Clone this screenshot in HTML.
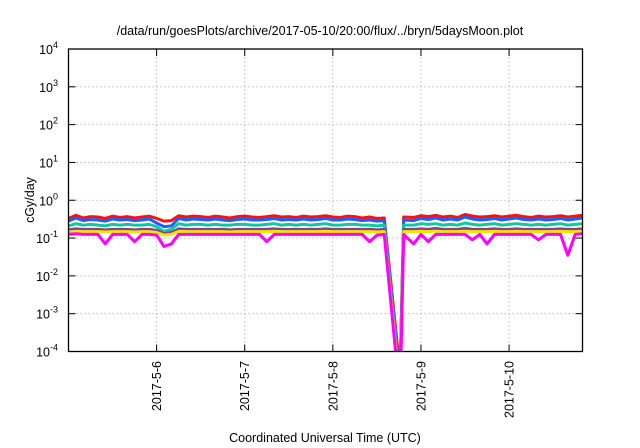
<!DOCTYPE html>
<html><head><meta charset="utf-8"><style>
html,body{margin:0;padding:0;background:#fff;}
svg{display:block;font-family:"Liberation Sans",sans-serif;}
</style></head><body>
<svg id="chart" width="640" height="448" viewBox="0 0 640 448" xmlns="http://www.w3.org/2000/svg">
<text x="320" y="35" text-anchor="middle" font-size="12.5">/data/run/goesPlots/archive/2017-05-10/20:00/flux/../bryn/5daysMoon.plot</text>
<text transform="translate(34,200) rotate(-90)" text-anchor="middle" font-size="12.5">cGy/day</text>
<text x="325" y="442" text-anchor="middle" font-size="12.5">Coordinated Universal Time (UTC)</text>
<defs><clipPath id="pc"><rect x="68.5" y="49" width="514" height="302.5"/></clipPath></defs>
<g id="grid"></g>
<g id="series" clip-path="url(#pc)"></g>
<rect x="68.5" y="49" width="514" height="302.5" fill="none" stroke="#000" stroke-width="1.3"/>
<g id="axes"></g>
</svg>
<script>
// hours since 2017-05-05 00:00 UTC
const hours = [0,2,4,6,8,10,12,14,16,18,20,22,24,26,28,30,32,34,36,38,40,42,44,46,48,50,52,54,56,58,60,62,64,66,68,70,72,74,76,78,80,82,84,86,90.3,91.3,94,96,98,100,102,104,106,108,110,112,114,116,118,120,122,124,126,128,130,132,134,136,138,140];
const redVals = [0.33,0.40,0.34,0.37,0.36,0.33,0.38,0.35,0.37,0.34,0.36,0.38,0.33,0.28,0.29,0.39,0.36,0.38,0.37,0.35,0.38,0.36,0.34,0.37,0.38,0.36,0.35,0.37,0.39,0.36,0.37,0.35,0.38,0.36,0.37,0.39,0.36,0.35,0.38,0.37,0.34,0.36,0.33,0.34,0.00003,0.36,0.35,0.39,0.37,0.40,0.36,0.38,0.35,0.42,0.38,0.36,0.37,0.39,0.36,0.38,0.40,0.37,0.35,0.38,0.36,0.37,0.39,0.36,0.38,0.40];
const blueVals = [0.28,0.34,0.29,0.31,0.30,0.28,0.32,0.30,0.31,0.29,0.30,0.32,0.25,0.20,0.21,0.33,0.30,0.32,0.31,0.30,0.32,0.30,0.29,0.31,0.32,0.30,0.30,0.31,0.33,0.30,0.31,0.30,0.32,0.30,0.31,0.33,0.30,0.30,0.32,0.31,0.29,0.30,0.28,0.29,0.00002,0.30,0.29,0.33,0.31,0.34,0.30,0.32,0.30,0.36,0.32,0.30,0.31,0.33,0.30,0.32,0.34,0.31,0.30,0.32,0.30,0.31,0.33,0.30,0.32,0.34];
const tealVals = [0.21,0.24,0.22,0.23,0.22,0.21,0.23,0.22,0.23,0.22,0.22,0.23,0.20,0.15,0.17,0.24,0.22,0.23,0.23,0.22,0.23,0.22,0.22,0.23,0.23,0.22,0.22,0.23,0.24,0.22,0.23,0.22,0.23,0.22,0.23,0.24,0.22,0.22,0.23,0.23,0.22,0.22,0.21,0.22,0.000015,0.22,0.22,0.24,0.23,0.24,0.22,0.23,0.22,0.25,0.23,0.22,0.23,0.24,0.22,0.23,0.24,0.23,0.22,0.23,0.22,0.23,0.24,0.22,0.23,0.24];
const purpleVals = [0.165,0.175,0.17,0.17,0.17,0.165,0.17,0.17,0.17,0.165,0.17,0.17,0.16,0.13,0.14,0.175,0.17,0.17,0.17,0.17,0.17,0.17,0.165,0.17,0.17,0.17,0.17,0.17,0.175,0.17,0.17,0.17,0.17,0.17,0.17,0.175,0.17,0.17,0.17,0.17,0.17,0.17,0.165,0.17,0.00001,0.17,0.17,0.175,0.17,0.18,0.17,0.17,0.17,0.18,0.17,0.17,0.17,0.175,0.17,0.17,0.175,0.17,0.17,0.17,0.17,0.17,0.175,0.17,0.17,0.175];
const yellowVals = [0.145,0.15,0.148,0.148,0.148,0.145,0.148,0.148,0.148,0.145,0.148,0.148,0.14,0.12,0.125,0.15,0.148,0.148,0.148,0.148,0.148,0.148,0.145,0.148,0.148,0.148,0.148,0.148,0.15,0.148,0.148,0.148,0.148,0.148,0.148,0.15,0.148,0.148,0.148,0.148,0.148,0.148,0.145,0.148,0.000008,0.148,0.148,0.15,0.148,0.152,0.148,0.148,0.148,0.152,0.148,0.148,0.148,0.15,0.148,0.148,0.15,0.148,0.148,0.148,0.148,0.148,0.15,0.148,0.148,0.15];
const magentaVals = [0.125,0.13,0.125,0.125,0.125,0.07,0.125,0.125,0.125,0.08,0.125,0.125,0.12,0.06,0.07,0.125,0.125,0.125,0.125,0.125,0.125,0.125,0.125,0.125,0.125,0.125,0.125,0.08,0.125,0.125,0.125,0.125,0.125,0.125,0.125,0.125,0.125,0.125,0.125,0.125,0.125,0.08,0.12,0.125,0.000006,0.125,0.07,0.125,0.08,0.125,0.125,0.125,0.125,0.125,0.09,0.125,0.07,0.125,0.125,0.125,0.125,0.125,0.125,0.09,0.125,0.125,0.125,0.035,0.125,0.13];
const seriesColors = ["#ff1010","#1e5eff","#10c8a0","#8a3e9a","#f2e600","#ff00ff"];
const seriesNames = ["red","blue","teal","purple","yellow","magenta"];
const allSeries = [redVals,blueVals,tealVals,purpleVals,yellowVals,magentaVals];
const xTickHours = [24,48,72,96,120];
const xTickLabels = ["2017-5-6","2017-5-7","2017-5-8","2017-5-9","2017-5-10"];
const yTickExps = [-4,-3,-2,-1,0,1,2,3,4];

const X0=68.5,X1=582.5,Y0=351.5,Y1=49,H0=0,H1=140,E0=-4,E1=4;
function xs(h){return X0+(h-H0)/(H1-H0)*(X1-X0);}
function ys(v){return Y0-(Math.log10(v)-E0)/(E1-E0)*(Y0-Y1);}
const NS="http://www.w3.org/2000/svg";
function mk(tag,attrs,parent){const e=document.createElementNS(NS,tag);for(const k in attrs)e.setAttribute(k,attrs[k]);parent.appendChild(e);return e;}
const grid=document.getElementById('grid'),axes=document.getElementById('axes'),ser=document.getElementById('series');

xTickHours.forEach((h,i)=>{
  const x=xs(h);
  const g=mk('line',{x1:x,x2:x,y1:Y1,y2:Y0,stroke:"#b0b0b0","stroke-width":0.8,"stroke-dasharray":"1.5,2.5"},grid);
  
  
  const t1=mk('line',{x1:x,x2:x,y1:Y0,y2:Y0-7,stroke:"#000"},axes);
  
  
  const t2=mk('line',{x1:x,x2:x,y1:Y1,y2:Y1+7,stroke:"#000"},axes);
  
  
  const tx=mk('text',{transform:`translate(${x+4.5},361) rotate(-90)`,"text-anchor":"end","font-size":"12.5"},axes);
  tx.textContent=xTickLabels[i];
  
  
});
yTickExps.forEach(e=>{
  const y=ys(Math.pow(10,e));
  if(e>E0&&e<E1){
    const g=mk('line',{x1:X0,x2:X1,y1:y,y2:y,stroke:"#b0b0b0","stroke-width":0.8,"stroke-dasharray":"1.5,2.5"},grid);
    
    
  }
  const t1=mk('line',{x1:X0,x2:X0+7,y1:y,y2:y,stroke:"#000"},axes);
  
  
  const t2=mk('line',{x1:X1,x2:X1-7,y1:y,y2:y,stroke:"#000"},axes);
  
  
  const tx=mk('text',{x:58,y:y+5,"text-anchor":"end","font-size":"12.5"},axes);
  
  
  tx.appendChild(document.createTextNode('10'));
  const sp=mk('tspan',{dy:-6,"font-size":"9"},tx);
  sp.textContent=String(e);
});
allSeries.forEach((vals,si)=>{
  const d=vals.map((v,i)=>(i?'L':'M')+xs(hours[i]).toFixed(2)+','+ys(v).toFixed(2)).join(' ');
  const p=mk('path',{d:d,fill:"none",stroke:seriesColors[si],"stroke-width":3,"stroke-linejoin":"round"},ser);
  
  
});
</script>
</body></html>
